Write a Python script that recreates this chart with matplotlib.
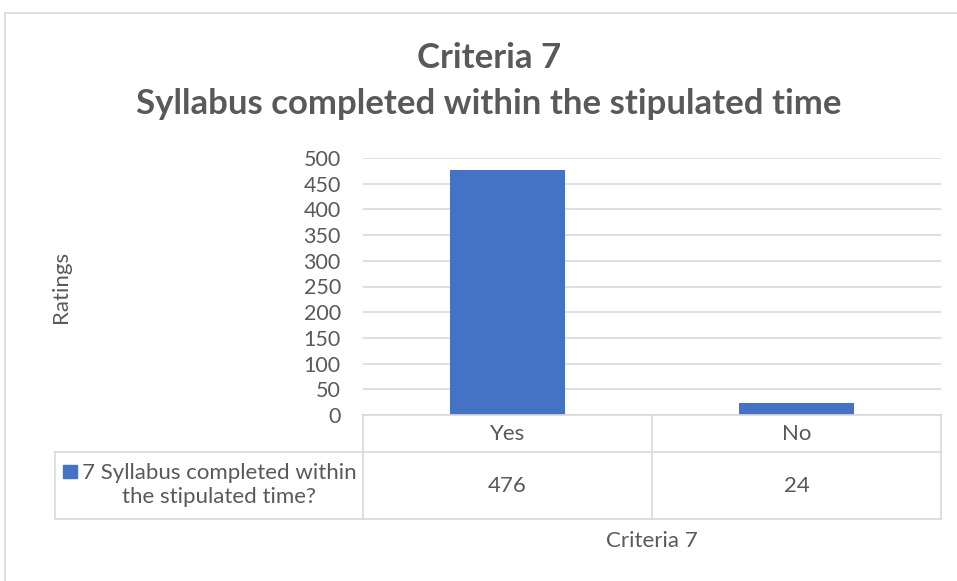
import matplotlib
matplotlib.use("Agg")
import matplotlib.pyplot as plt
from matplotlib.patches import Rectangle
from matplotlib.lines import Line2D
from matplotlib.transforms import blended_transform_factory

# Data
categories = ["Yes", "No"]
values = [476, 24]
series_name = "7 Syllabus completed within\nthe stipulated time?"
title = "Criteria 7\nSyllabus completed within the stipulated time"
x_label = "Criteria 7"
y_label = "Ratings"
y_ticks = list(range(0, 501, 50))

W, H = 957, 581
text_color = "#595959"
grid_color = "#d9d9d9"
bar_color = "#4472C4"

plt.rcParams["font.family"] = ["Lato", "DejaVu Sans"]

fig = plt.figure(figsize=(W / 100, H / 100), dpi=100)


def fx(px):
    return px / W


def fy(py):
    return 1 - py / H


# outer chart border
fig.patches.append(Rectangle((fx(5), fy(600)), fx(960) - fx(5), fy(13) - fy(600),
                             transform=fig.transFigure, fill=False,
                             edgecolor=grid_color, linewidth=1.2))

# plot area
ax = fig.add_axes([fx(363), fy(415), fx(941) - fx(363), fy(158) - fy(415)])
x = list(range(len(categories)))
ax.bar(x, values, width=0.4, color=bar_color, zorder=3)
ax.set_xlim(-0.5, len(categories) - 0.5)
ax.set_ylim(0, 500)
ax.set_yticks(y_ticks)
ax.set_yticklabels([str(t) for t in y_ticks], fontsize=15.5, color=text_color)
ax.set_xticks([])
ax.tick_params(axis="y", length=0, pad=16)
ax.grid(axis="y", color=grid_color, linewidth=1.2, zorder=0)
for s in ax.spines.values():
    s.set_visible(False)

# title
fig.text(fx(489), fy(81), title, ha="center", va="center", fontsize=25,
         fontweight="bold", color=text_color, linespacing=1.5)

# y label
fig.text(fx(61), fy(287), y_label, rotation=90, ha="center", va="center",
         fontsize=16, color=text_color)

# data table beneath the axis
tr = blended_transform_factory(ax.transData, fig.transFigure)
left = -0.5
right = len(categories) - 0.5
row_top, row_mid, row_bot = fy(415), fy(452), fy(519)

for yy in [row_top, row_mid, row_bot]:
    fig.lines.append(Line2D([left, right], [yy, yy], transform=tr,
                            color=grid_color, linewidth=1.2))
for b in [i - 0.5 for i in range(len(categories) + 1)]:
    fig.lines.append(Line2D([b, b], [row_top, row_bot], transform=tr,
                            color=grid_color, linewidth=1.2))
# header cell on the left
fig.lines.append(Line2D([fx(55), fx(363)], [row_mid, row_mid], transform=fig.transFigure,
                        color=grid_color, linewidth=1.2))
fig.lines.append(Line2D([fx(55), fx(363)], [row_bot, row_bot], transform=fig.transFigure,
                        color=grid_color, linewidth=1.2))
fig.lines.append(Line2D([fx(55), fx(55)], [row_mid, row_bot], transform=fig.transFigure,
                        color=grid_color, linewidth=1.2))

for i, (c, v) in enumerate(zip(categories, values)):
    fig.text(i, fy(434), c, transform=tr, ha="center", va="center",
             fontsize=16, color=text_color)
    fig.text(i, fy(486), str(v), transform=tr, ha="center", va="center",
             fontsize=16, color=text_color)

# legend key + series name
fig.patches.append(Rectangle((fx(63), fy(478)), fx(14), fy(465) - fy(478),
                             transform=fig.transFigure, color=bar_color))
fig.text(fx(219), fy(485), series_name, ha="center", va="center",
         fontsize=16, color=text_color, linespacing=1.25)

# x label
fig.text(fx(652), fy(541), x_label, ha="center", va="center", fontsize=16,
         color=text_color)

fig.savefig("out.png", dpi=100)
